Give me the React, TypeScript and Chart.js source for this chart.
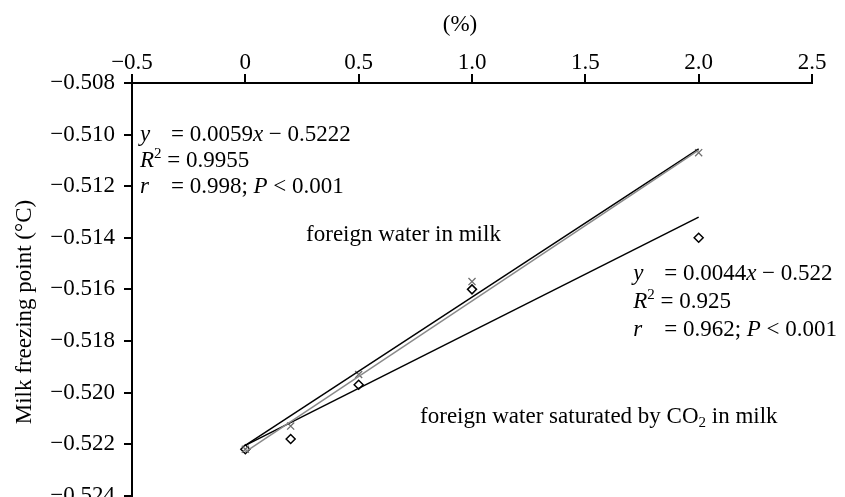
import React, { useEffect, useRef } from "react";
import { Chart, registerables } from "chart.js";

Chart.register(...registerables);

const xValues = [0, 0.2, 0.5, 1.0, 2.0];
const waterValues = [-0.5222, -0.5213, -0.5193, -0.5157, -0.5107];
const co2Values = [-0.5222, -0.5218, -0.5197, -0.516, -0.514];
const trendX = [0, 2];
const waterTrend = [-0.52205, -0.51055];
const waterTrendGray = [-0.5223, -0.5106];
const co2Trend = [-0.52205, -0.5132];
const xTickLabels = ["−0.5", "0", "0.5", "1.0", "1.5", "2.0", "2.5"];
const yTickLabels = ["−0.524", "−0.522", "−0.520", "−0.518", "−0.516", "−0.514", "−0.512", "−0.510", "−0.508"];

const FONT = "'Liberation Serif', 'DejaVu Serif', serif";
const FS = 23;

type Run = { t: string; i?: boolean; sup?: boolean; sub?: boolean };

function drawRuns(ctx: CanvasRenderingContext2D, x: number, y: number, runs: Run[]) {
  let cx = x;
  for (const r of runs) {
    const size = r.sup || r.sub ? Math.round(FS * 0.65) : FS;
    ctx.font = `${r.i ? "italic " : ""}${size}px ${FONT}`;
    const dy = r.sup ? -7 : r.sub ? 7 : 0;
    ctx.fillText(r.t, cx, y + dy);
    cx += ctx.measureText(r.t).width;
  }
  return cx;
}

const annotationPlugin = {
  id: "annot",
  afterDraw(chart: any) {
    const ctx: CanvasRenderingContext2D = chart.ctx;
    const xs = chart.scales.x;
    const ys = chart.scales.y;
    ctx.save();
    ctx.fillStyle = "#000";
    ctx.textBaseline = "middle";
    ctx.textAlign = "left";
    const eqOff = 31;

    // block 1
    let bx = xs.getPixelForValue(-0.465);
    let by = ys.getPixelForValue(-0.51);
    let gap = 26;
    drawRuns(ctx, bx, by, [{ t: "y", i: true }]);
    drawRuns(ctx, bx + eqOff, by, [{ t: "= 0.0059" }, { t: "x", i: true }, { t: " − 0.5222" }]);
    drawRuns(ctx, bx, by + gap, [{ t: "R", i: true }, { t: "2", sup: true }, { t: " = 0.9955" }]);
    drawRuns(ctx, bx, by + 2 * gap, [{ t: "r", i: true }]);
    drawRuns(ctx, bx + eqOff, by + 2 * gap, [{ t: "= 0.998; " }, { t: "P", i: true }, { t: " < 0.001" }]);

    // block 2
    bx = xs.getPixelForValue(1.711);
    by = ys.getPixelForValue(-0.5154);
    gap = 28;
    drawRuns(ctx, bx, by, [{ t: "y", i: true }]);
    drawRuns(ctx, bx + eqOff, by, [{ t: "= 0.0044" }, { t: "x", i: true }, { t: " − 0.522" }]);
    drawRuns(ctx, bx, by + gap, [{ t: "R", i: true }, { t: "2", sup: true }, { t: " = 0.925" }]);
    drawRuns(ctx, bx, by + 2 * gap, [{ t: "r", i: true }]);
    drawRuns(ctx, bx + eqOff, by + 2 * gap, [{ t: "= 0.962; " }, { t: "P", i: true }, { t: " < 0.001" }]);

    // labels
    drawRuns(ctx, xs.getPixelForValue(0.268), ys.getPixelForValue(-0.5139), [{ t: "foreign water in milk" }]);
    drawRuns(ctx, xs.getPixelForValue(0.771), ys.getPixelForValue(-0.52093), [
      { t: "foreign water saturated by CO" },
      { t: "2", sub: true },
      { t: " in milk" },
    ]);

    // axis titles
    ctx.font = `${FS}px ${FONT}`;
    ctx.textAlign = "center";
    ctx.fillText("(%)", (xs.left + xs.right) / 2 - 12, 25);
    ctx.translate(25, 312);
    ctx.rotate(-Math.PI / 2);
    ctx.fillText("Milk freezing point (°C)", 0, 0);
    ctx.restore();
  },
};

export default function App() {
  const ref = useRef<HTMLCanvasElement>(null);
  useEffect(() => {
    if (!ref.current) return;
    const pts = (xs: number[], ys: number[]) => xs.map((x, i) => ({ x, y: ys[i] }));
    const chart = new Chart(ref.current, {
      type: "scatter",
      data: {
        datasets: [
          {
            label: "gray",
            data: pts(trendX, waterTrendGray),
            showLine: true,
            borderColor: "#8a8a8a",
            borderWidth: 1.5,
            pointRadius: 0,
          },
          {
            label: "trend water",
            data: pts(trendX, waterTrend),
            showLine: true,
            borderColor: "#000",
            borderWidth: 1.5,
            pointRadius: 0,
          },
          {
            label: "trend co2",
            data: pts(trendX, co2Trend),
            showLine: true,
            borderColor: "#000",
            borderWidth: 1.5,
            pointRadius: 0,
          },
          {
            label: "foreign water in milk",
            data: pts(xValues, waterValues),
            pointStyle: "crossRot",
            pointRadius: 5,
            borderColor: "#6e6e6e",
            borderWidth: 1.3,
            showLine: false,
          },
          {
            label: "CO2",
            data: pts(xValues, co2Values),
            pointStyle: "rectRot",
            pointRadius: 4.5,
            borderColor: "#000",
            backgroundColor: "#fff",
            borderWidth: 1.5,
            showLine: false,
          },
        ],
      },
      options: {
        animation: false,
        responsive: false,
        devicePixelRatio: 1,
        layout: { padding: { left: 0, top: 0, right: 33, bottom: 0 } },
        plugins: { legend: { display: false }, tooltip: { enabled: false } },
        scales: {
          x: {
            type: "linear",
            position: "top",
            min: -0.5,
            max: 2.5,
            afterFit: (s: any) => {
              s.height = 83;
              s.paddingLeft = 0;
              s.paddingRight = 0;
            },
            border: { display: true, color: "#000", width: 2 },
            grid: { drawOnChartArea: false, drawTicks: true, tickLength: 9, color: "#000", lineWidth: 2 },
            ticks: {
              stepSize: 0.5,
              padding: -3,
              color: "#000",
              font: { family: FONT, size: FS },
              maxRotation: 0,
              callback: (_v: any, i: number) => xTickLabels[i],
            },
          },
          y: {
            type: "linear",
            min: -0.524,
            max: -0.508,
            afterFit: (s: any) => {
              s.width = 132;
              s.paddingTop = 0;
              s.paddingBottom = 0;
            },
            border: { display: true, color: "#000", width: 2 },
            grid: { drawOnChartArea: false, drawTicks: true, tickLength: 8, color: "#000", lineWidth: 2 },
            ticks: {
              stepSize: 0.002,
              padding: 9,
              color: "#000",
              font: { family: FONT, size: FS },
              callback: (_v: any, i: number) => yTickLabels[i],
            },
          },
        },
      },
      plugins: [annotationPlugin],
    });
    return () => chart.destroy();
  }, []);
  return (
    <div
      style={{
        position: "absolute",
        left: 0,
        top: 0,
        width: 845,
        height: 497,
        overflow: "hidden",
        background: "#fff",
      }}
    >
      <canvas ref={ref} width={845} height={502} style={{ display: "block" }} />
    </div>
  );
}
